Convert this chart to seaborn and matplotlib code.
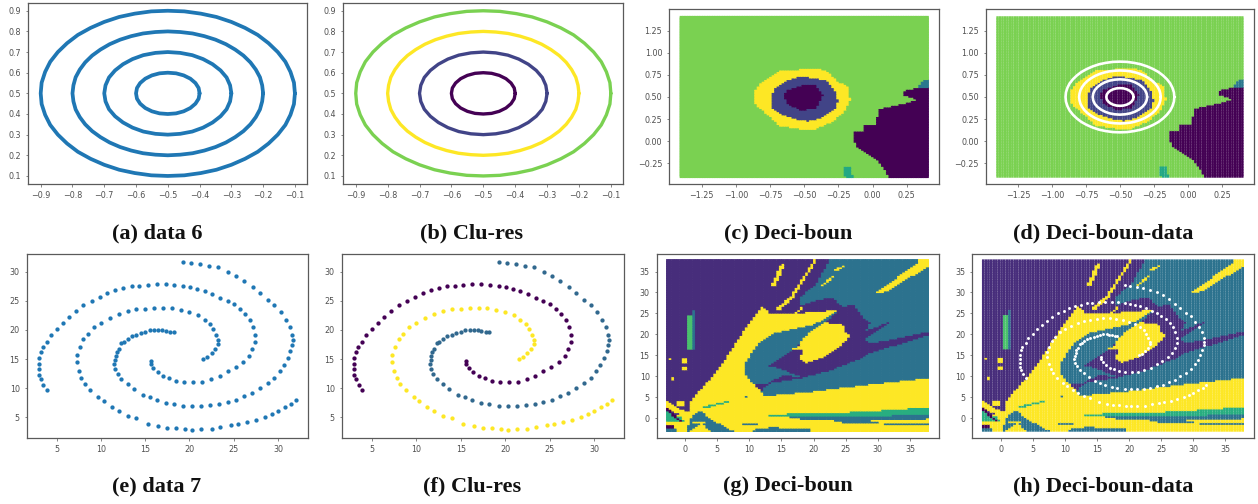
import numpy as np
import pandas as pd
import matplotlib
matplotlib.use("Agg")
import matplotlib.pyplot as plt
from matplotlib.path import Path
import seaborn as sns

# ---------- data 6: four rings ----------
ring1_x = [-.4,-.403,-.413,-.429,-.45,-.474,-.5,-.526,-.55,-.571,-.587,-.597,-.6,-.597,-.587,-.571,-.55,-.526,-.5,-.474,-.45,-.429,-.413,-.403,-.4]
ring1_y = [.5,.526,.55,.571,.587,.597,.6,.597,.587,.571,.55,.526,.5,.474,.45,.429,.413,.403,.4,.403,.413,.429,.45,.474,.5]
ring2_x = [-.3,-.304,-.315,-.334,-.359,-.389,-.423,-.461,-.5,-.539,-.577,-.611,-.641,-.666,-.685,-.696,-.7,-.696,-.685,-.666,-.641,-.611,-.577,-.539,-.5,-.461,-.423,-.389,-.359,-.334,-.315,-.304,-.3]
ring2_y = [.5,.539,.577,.611,.641,.666,.685,.696,.7,.696,.685,.666,.641,.611,.577,.539,.5,.461,.423,.389,.359,.334,.315,.304,.3,.304,.315,.334,.359,.389,.423,.461,.5]
ring3_x = [-.2,-.203,-.21,-.223,-.24,-.262,-.288,-.317,-.35,-.385,-.422,-.461,-.5,-.539,-.578,-.615,-.65,-.683,-.712,-.738,-.76,-.777,-.79,-.797,-.8,-.797,-.79,-.777,-.76,-.738,-.712,-.683,-.65,-.615,-.578,-.539,-.5,-.461,-.422,-.385,-.35,-.317,-.288,-.262,-.24,-.223,-.21,-.203,-.2]
ring3_y = [.5,.539,.578,.615,.65,.683,.712,.738,.76,.777,.79,.797,.8,.797,.79,.777,.76,.738,.712,.683,.65,.615,.578,.539,.5,.461,.422,.385,.35,.317,.288,.262,.24,.223,.21,.203,.2,.203,.21,.223,.24,.262,.288,.317,.35,.385,.422,.461,.5]
ring4_x = [-.1,-.103,-.114,-.130,-.154,-.183,-.217,-.257,-.3,-.347,-.396,-.448,-.5,-.552,-.604,-.653,-.7,-.743,-.783,-.817,-.846,-.870,-.886,-.897,-.9,-.897,-.886,-.870,-.846,-.817,-.783,-.743,-.7,-.653,-.604,-.552,-.5,-.448,-.396,-.347,-.3,-.257,-.217,-.183,-.154,-.130,-.114,-.103,-.1]
ring4_y = [.5,.552,.604,.653,.7,.743,.783,.817,.846,.870,.886,.897,.9,.897,.886,.870,.846,.817,.783,.743,.7,.653,.604,.552,.5,.448,.396,.347,.3,.257,.217,.183,.154,.130,.114,.103,.1,.103,.114,.130,.154,.183,.217,.257,.3,.347,.396,.448,.5]
rings = [(ring1_x, ring1_y), (ring2_x, ring2_y), (ring3_x, ring3_y), (ring4_x, ring4_y)]
ring_colors = ["#440154", "#414487", "#fde725", "#7ad151"]

# ---------- data 7: three spiral arms ----------
arm_a = [(18.2,19.6),(17.8,19.7),(17.3,19.85),(16.9,19.9),(16.5,20),(16,20),(15.5,19.9),(15,19.7),(14.5,19.5),(14,19.2),(13.5,19),(13,18.5),(12.6,18),(12.3,17.7),(12,16.8),(11.8,16.2),(11.7,15.5),(11.6,14.8),(11.5,14.2),(11.6,13.3),(11.9,12.4),(12.3,11.5),(13,10.7),(13.7,9.8),(14.7,8.9),(15.5,8.5),(16.3,7.9),(17.3,7.5),(18.2,7.2),(19.3,7),(20.3,6.9),(21.3,7),(22.3,7.1),(23.3,7.3),(24.3,7.6),(25.3,8),(26.2,8.7),(27.1,9.2),(28,10),(28.9,10.8),(29.6,11.8),(30.2,12.9),(30.7,14),(31.1,15.2),(31.4,16.3),(31.6,17.4),(31.7,18.3),(31.6,19.2),(31.3,20.5),(30.9,21.7),(30.3,23),(29.6,24.3),(28.9,25.2),(28,26.4),(27.2,27.3),(26.2,28.4),(25.3,29.3),(24.4,30),(23.2,30.7),(22.2,31),(21.2,31.3),(20.2,31.5),(19.3,31.7)]
arm_b = [(3.9,9.6),(3.5,10.6),(3.2,11.5),(3,12.3),(3,13.3),(3,14.2),(3,15.2),(3.2,16.2),(3.4,17),(3.9,18),(4.3,19.2),(5,20.2),(5.7,21.2),(6.4,22.2),(7.2,23.2),(8,24.2),(9,25),(9.9,25.6),(10.7,26.3),(11.6,26.8),(12.5,27.1),(13.5,27.5),(14.3,27.6),(15.3,27.7),(16.3,27.8),(17.3,27.8),(18.3,27.7),(19.3,27.6),(20.1,27.3),(20.9,27),(21.7,26.7),(22.6,26.2),(23.5,25.5),(24.3,25),(25,24.4),(25.7,23.6),(26.3,22.7),(26.8,21.7),(27.2,20.5),(27.4,19.2),(27.4,18),(27.1,16.7),(26.7,15.5),(26,14.5),(25.2,13.6),(24.3,13),(23.4,12),(22.4,11.5),(21.4,11.1),(20.4,11),(19.4,11),(18.5,11.2),(17.7,11.7),(17,12.1),(16.4,12.7),(15.9,13.4),(15.6,14.1),(15.6,14.7)]
arm_c = [(21.5,15),(22,15.4),(22.5,16),(22.9,16.8),(23.2,17.6),(23.2,18.3),(23,19.2),(22.7,20.2),(22.3,21),(21.7,21.7),(21,22.5),(20,23),(19,23.4),(18,23.7),(17,23.8),(16,23.8),(15,23.6),(14,23.5),(13,23.2),(12,22.7),(11,22),(10,21.2),(9.2,20.5),(8.5,19.3),(8,18.5),(7.6,17),(7.3,15.7),(7.3,14.5),(7.5,13),(7.8,11.8),(8.2,10.7),(8.8,9.6),(9.7,8.4),(10.3,7.8),(11.2,6.7),(12,6),(13,5.3),(14,4.8),(15.3,3.9),(16.5,3.5),(17.5,3.1),(18.5,3.1),(19.5,3),(20.3,2.9),(21.3,3),(22.5,3),(23.5,3.3),(24.7,3.6),(25.5,3.9),(26.5,4.2),(27.5,4.6),(28.5,5.1),(29.3,5.6),(30,6.1),(30.8,6.7),(31.5,7.3),(32,7.9)]
arms = [arm_a, arm_b, arm_c]
arm_colors = ["#31688e", "#440154", "#fde725"]

# ---------- decision regions, data 6 (painted in order over class "green") ----------
c_yellow = [(-.86,.58),(-.80,.69),(-.68,.81),(-.555,.815),(-.43,.835),(-.335,.805),(-.24,.67),(-.18,.635),(-.16,.465),(-.21,.33),(-.30,.22),(-.41,.145),(-.53,.145),(-.68,.18),(-.775,.315),(-.86,.43)]
c_indigo = [(-.743,.484),(-.713,.608),(-.628,.692),(-.53,.74),(-.433,.723),(-.335,.692),(-.274,.578),(-.25,.465),(-.274,.37),(-.36,.277),(-.47,.231),(-.567,.258),(-.665,.314),(-.726,.37)]
c_inner = [(-.648,.503),(-.628,.586),(-.506,.646),(-.42,.642),(-.36,.522),(-.41,.37),(-.53,.36),(-.616,.42)]
c_right = [(.128,-.42),(.09,-.308),(.043,-.214),(-.043,-.139),(-.116,-.063),(-.14,.05),(-.128,.114),(-.067,.125),(-.062,.182),(.03,.2),(.043,.37),(.20,.42),(.33,.476),(.226,.522),(.238,.578),(.323,.608),(.42,.608),(.42,-.42)]
c_corner = [(.323,.608),(.36,.673),(.405,.71),(.42,.71),(.42,.608)]
c_teal = [(-.213,-.28),(-.16,-.28),(-.14,-.42),(-.195,-.42),(-.21,-.346)]
layers_c = [("yellow", c_yellow), ("indigo", c_indigo), ("purple", c_inner), ("purple", c_right),
            ("blue", c_corner), ("teal", c_teal)]

# ---------- decision regions, data 7 (painted in order over class "indigo") ----------
g_teal_main = [(22.5,38),(38,38),(38,9.7),(27.7,8),(19.4,6.4),(12.2,5.4),(11.9,6.8),(13.2,8.4),(10.6,8.4),(9.3,11.1),(9.3,13.1),(11.4,17.9),(13.7,20.3),(16.8,21.5),(19.7,22.3),(22,23.9),(24.4,26.7),(23,29),(20.5,28.2),(17.9,27),(17.9,29),(20.5,32.2)]
g_wedge = [(24.4,26.7),(26.2,27.4),(28.2,23.5),(28.8,23.1),(28.2,21.1),(31.9,23.1),(32.4,23.3),(28,19.3),(28.8,17.9),(38,20.8),(38,20),(28.5,15.5),(27.2,14.3),(22.5,11.5),(17.4,9.5),(14.2,8.8),(12.7,8.4),(15.3,10.3),(17.9,10.1),(14.2,12.3),(13,12.7),(16.8,16.3),(18.4,18.7),(22,23.1)]
g_yellow_main = [(.8,4),(2.3,6.8),(4.4,10.3),(6.5,14.7),(8.5,19.5),(10.6,23.9),(11.9,26.8),(12.7,26.3),(13,25.2),(17.4,25),(19.4,25.5),(23.6,25.9),(22,23.9),(19.7,22.3),(16.8,21.5),(13.7,20.3),(11.4,17.9),(9.3,13.1),(9.3,11.1),(10.6,8.4),(11.9,6.8),(12.2,5.4),(19.4,6.4),(27.7,8),(38,9.7),(38,-3.2),(-3.2,-3.2),(-3.2,-.5),(.8,2)]
g_yellow_blob = [(17.6,16.7),(18.3,19.2),(21.5,23),(24.6,22.5),(25.1,20.3),(25.9,20.3),(25.1,18.7),(23.8,16.7),(21,14.3),(18.9,13.4),(17.9,14.3),(18.4,16.3)]
g_yellow_bit = [(16.8,16.7),(19,18.2),(19.2,17.7),(17,16.2)]
g_yellow_streak = [(29.5,29.9),(36,37),(36.6,38),(38,38),(38,36.4),(31.1,30.2)]
g_dots1 = [(13.4,31.8),(15,37),(15.5,36.8),(14.2,31.8)]
g_dots2 = [(16.3,29),(20.2,38),(20.6,38),(16.9,29)]
g_dots3 = [(14.2,26.3),(17,30),(17.4,29.6),(14.6,25.7)]
g_dots4 = [(17.1,25.4),(18.4,27),(18.6,26.7),(17.4,25)]
g_dots5 = [(21,31.8),(23,34),(23.2,33.8),(21.2,31.4)]
g_dots6 = [(23,35.4),(24.6,36.6),(24.8,36.3),(23.2,35)]
g_dots7 = [(13.3,22.7),(15,24.8),(15.2,24.6),(13.5,22.3)]
g_sq1 = [(-.3,13.4),(.2,13.4),(.2,14.6),(-.3,14.6)]
g_sq2 = [(-.3,11.5),(.2,11.5),(.2,12.3),(-.3,12.3)]
g_sq3 = [(-2,9),(-1.5,9),(-1.5,10),(-2,10)]
g_sq4 = [(-2.5,14.2),(-2,14.2),(-2,14.6),(-2.5,14.6)]
g_green_patch = [(.5,24.7),(1.3,24.7),(1.3,16.5),(.5,16.5)]
g_teal_sliver = [(1.3,25.9),(1.7,25.9),(1.7,16.5),(1.3,16.5)]
g_band_green = [(13,.8),(15.8,1.2),(22,1.35),(28.8,1.8),(38,2.8),(38,1.2),(28.8,.55),(22,.4),(15.8,.55)]
g_band_teal = [(15.8,.55),(22,.4),(28.8,.55),(38,1.2),(38,0),(30.8,-.4),(24.6,-.55),(17.4,0)]
g_strip1 = [(24.6,-.55),(30.3,-.55),(30.3,-.9),(24.6,-.9)]
g_strip2 = [(30.8,-.9),(38,-.9),(38,-1.35),(30.8,-1.35)]
g_strip3 = [(9.1,-1.2),(11.4,-1.2),(11.4,-1.6),(9.1,-1.6)]
g_strip4 = [(10.6,-2.6),(13.5,-2),(19.4,-2.4),(19.4,-3.2),(10.6,-3.2)]
g_ll_teal = [(.8,.4),(2.6,2),(3.9,0),(8,-3.2),(4.4,-3.2),(2.6,-1.2),(.3,-3.2)]
g_ll_dots = [(2.6,2.8),(7,4.4),(7.2,4.1),(2.8,2.4)]
g_ll_dot2 = [(9.1,5.2),(9.8,5.6),(9.9,5.3),(9.2,4.9)]
g_ll_yellow_stripe = [(1,-.5),(4,-1),(4,-1.2),(1,-.9)]
g_ll_yellow = [(-3.2,5),(-2,3.5),(1,1),(1,0),(-3.2,2.5)]
g_ll_green = [(-3.2,2),(-.8,.6),(.3,-.8),(-3.2,-.8)]
g_ll_purple1 = [(-3.2,3.5),(-.5,-.5),(-.6,-.9),(-3.2,2.5)]
g_ll_purple2 = [(-3.2,-1.5),(-1.8,-1.5),(-1.8,-2.1),(-3.2,-2.1)]
g_ll_teal2 = [(-3.2,-2.3),(-1.3,-2.2),(-1,-3.2),(-3.2,-3.2)]
g_ll_sq = [(-1.3,3.2),(0,3.2),(0,4.4),(-1.3,4.4)]
layers_g = [("teal2", g_teal_main), ("indigo", g_wedge), ("yellow", g_yellow_main), ("yellow", g_yellow_blob),
            ("yellow", g_yellow_bit), ("yellow", g_yellow_streak), ("yellow", g_dots1), ("yellow", g_dots2),
            ("yellow", g_dots3), ("yellow", g_dots4), ("yellow", g_dots5), ("yellow", g_dots6), ("yellow", g_dots7),
            ("yellow", g_sq1), ("yellow", g_sq2), ("yellow", g_sq3), ("yellow", g_sq4),
            ("green2", g_green_patch), ("teal2", g_teal_sliver), ("teal3", g_band_green), ("teal2", g_band_teal),
            ("teal2", g_strip1), ("teal2", g_strip2), ("teal2", g_strip3), ("teal2", g_strip4),
            ("teal2", g_ll_teal), ("teal3", g_ll_dots), ("teal2", g_ll_dot2), ("yellow", g_ll_yellow_stripe),
            ("yellow", g_ll_yellow), ("teal3", g_ll_green), ("purple", g_ll_purple1), ("purple", g_ll_purple2),
            ("teal2", g_ll_teal2), ("yellow", g_ll_sq)]

class_colors = {"green": "#7ad151", "yellow": "#fde725", "indigo": "#472d7b", "purple": "#440154",
                "teal": "#22a884", "blue": "#2a788e", "teal2": "#2c728e", "teal3": "#28ae80", "green2": "#4ac16d"}
ring_region_colors = dict(class_colors, indigo="#414487")

captions = ["(a) data 6", "(b) Clu-res", "(c) Deci-boun", "(d) Deci-boun-data",
            "(e) data 7", "(f) Clu-res", "(g) Deci-boun", "(h) Deci-boun-data"]
ticks_a_x = [-.9, -.8, -.7, -.6, -.5, -.4, -.3, -.2, -.1]
ticks_a_y = [.1, .2, .3, .4, .5, .6, .7, .8, .9]
ticks_c = [-1.25, -1.0, -.75, -.5, -.25, 0.0, .25]
ticks_c_y = [-.25, 0.0, .25, .5, .75, 1.0, 1.25]
ticks_e_x = [5, 10, 15, 20, 25, 30]
ticks_e_y = [5, 10, 15, 20, 25, 30]
ticks_g = [0, 5, 10, 15, 20, 25, 30, 35]

# ---------- drawing ----------
sns.set_theme(style="white")
plt.rcParams["font.family"] = ["DejaVu Sans"]
W, H = 1258, 504
fig = plt.figure(figsize=(W / 100, H / 100), dpi=100, facecolor="white")

def axes_px(l, t, r, b):
    ax = fig.add_axes([l / W, 1 - b / H, (r - l) / W, (b - t) / H])
    for s in ax.spines.values():
        s.set_color("#5a5a5a")
        s.set_linewidth(0.9)
    ax.tick_params(labelsize=5.8, length=1.8, width=0.5, color="#555555", labelcolor="#505050",
                   pad=3.2, bottom=True, left=True)
    return ax

def finish(ax, xl, yl, xt, yt, xf, yf):
    ax.set_xlim(*xl)
    ax.set_ylim(*yl)
    ax.set_xticks(xt)
    ax.set_yticks(yt)
    ax.set_xticklabels([xf.format(v).replace("-", "\u2212") for v in xt])
    ax.set_yticklabels([yf.format(v).replace("-", "\u2212") for v in yt])
    ax.set_xlabel("")
    ax.set_ylabel("")

def draw_rings(ax, colors, lw):
    for (x, y), col in zip(rings, colors):
        sns.lineplot(x=x, y=y, sort=False, estimator=None, color=col, linewidth=lw, ax=ax, legend=False,
                     solid_joinstyle="round", solid_capstyle="round")

def draw_arms(ax, colors, size):
    for arm, col in zip(arms, colors):
        a = pd.DataFrame(arm, columns=["x", "y"])
        sns.scatterplot(data=a, x="x", y="y", color=col, s=size, linewidth=0, ax=ax, legend=False, zorder=3)

def draw_regions(ax, xr, yr, base, layers, palette, size):
    gx, gy = np.meshgrid(np.linspace(*xr, 100), np.linspace(*yr, 100))
    pts = np.column_stack([gx.ravel(), gy.ravel()])
    labels = np.full(len(pts), base, dtype=object)
    for name, poly in layers:
        labels[Path(poly).contains_points(pts)] = name
    frame = pd.DataFrame({"x": pts[:, 0], "y": pts[:, 1], "cls": labels})
    sns.scatterplot(data=frame, x="x", y="y", hue="cls", palette=palette, marker="s", s=size,
                    linewidth=0, ax=ax, legend=False)
    for coll in ax.collections:
        coll.set_snap(False)

lim_a = ((-.939, -.061), (.061, .939))
lim_c = ((-1.487, .488), (-.488, 1.492))
lim_e = ((1.61, 33.39), (1.5, 33.1))
lim_g = ((-4.4, 39.5), (-4.63, 39.3))

ax = axes_px(28.3, 2.7, 307.3, 184)
draw_rings(ax, ["#1f77b4"] * 4, 2.7)
finish(ax, *lim_a, ticks_a_x, ticks_a_y, "{:.1f}", "{:.1f}")

ax = axes_px(343.3, 2.7, 623.3, 184)
draw_rings(ax, ring_colors, 2.4)
finish(ax, *lim_a, ticks_a_x, ticks_a_y, "{:.1f}", "{:.1f}")

ax = axes_px(669.3, 9.3, 939.3, 184.3)
draw_regions(ax, (-1.4, .4), (-.4, 1.4), "green", layers_c, ring_region_colors, 5.0)
finish(ax, *lim_c, ticks_c, ticks_c_y, "{:.2f}", "{:.2f}")

ax = axes_px(985.7, 9.3, 1254.3, 184.3)
draw_regions(ax, (-1.4, .4), (-.4, 1.4), "green", layers_c, ring_region_colors, 3.0)
draw_rings(ax, ["white"] * 4, 1.9)
finish(ax, *lim_c, ticks_c, ticks_c_y, "{:.2f}", "{:.2f}")

ax = axes_px(26.7, 253.5, 308, 437.7)
draw_arms(ax, ["#1f77b4"] * 3, 9.5)
finish(ax, *lim_e, ticks_e_x, ticks_e_y, "{:d}", "{:d}")

ax = axes_px(341.7, 253.5, 624.3, 437.7)
draw_arms(ax, arm_colors, 9.5)
finish(ax, *lim_e, ticks_e_x, ticks_e_y, "{:d}", "{:d}")

ax = axes_px(656.7, 253.5, 939, 437.7)
draw_regions(ax, (-2.7, 37.7), (-2.9, 37.6), "indigo", layers_g, class_colors, 5.0)
finish(ax, *lim_g, ticks_g, ticks_g, "{:d}", "{:d}")

ax = axes_px(972.3, 253.5, 1254.3, 437.7)
draw_regions(ax, (-2.7, 37.7), (-2.9, 37.6), "indigo", layers_g, class_colors, 3.3)
draw_arms(ax, ["white"] * 3, 4.5)
finish(ax, *lim_g, ticks_g, ticks_g, "{:d}", "{:d}")

cap_x = [157, 472, 788, 1103, 157, 472, 788, 1103]
cap_y = [238, 238, 238, 238, 491.5, 491.5, 491.5, 491.5]
for txt, cx, cy in zip(captions, cap_x, cap_y):
    fig.text(cx / W, 1 - cy / H, txt, ha="center", va="baseline", fontsize=16, fontweight="bold",
             family="Liberation Serif", color="#111111")

fig.savefig("out.png", dpi=100, facecolor="white")
